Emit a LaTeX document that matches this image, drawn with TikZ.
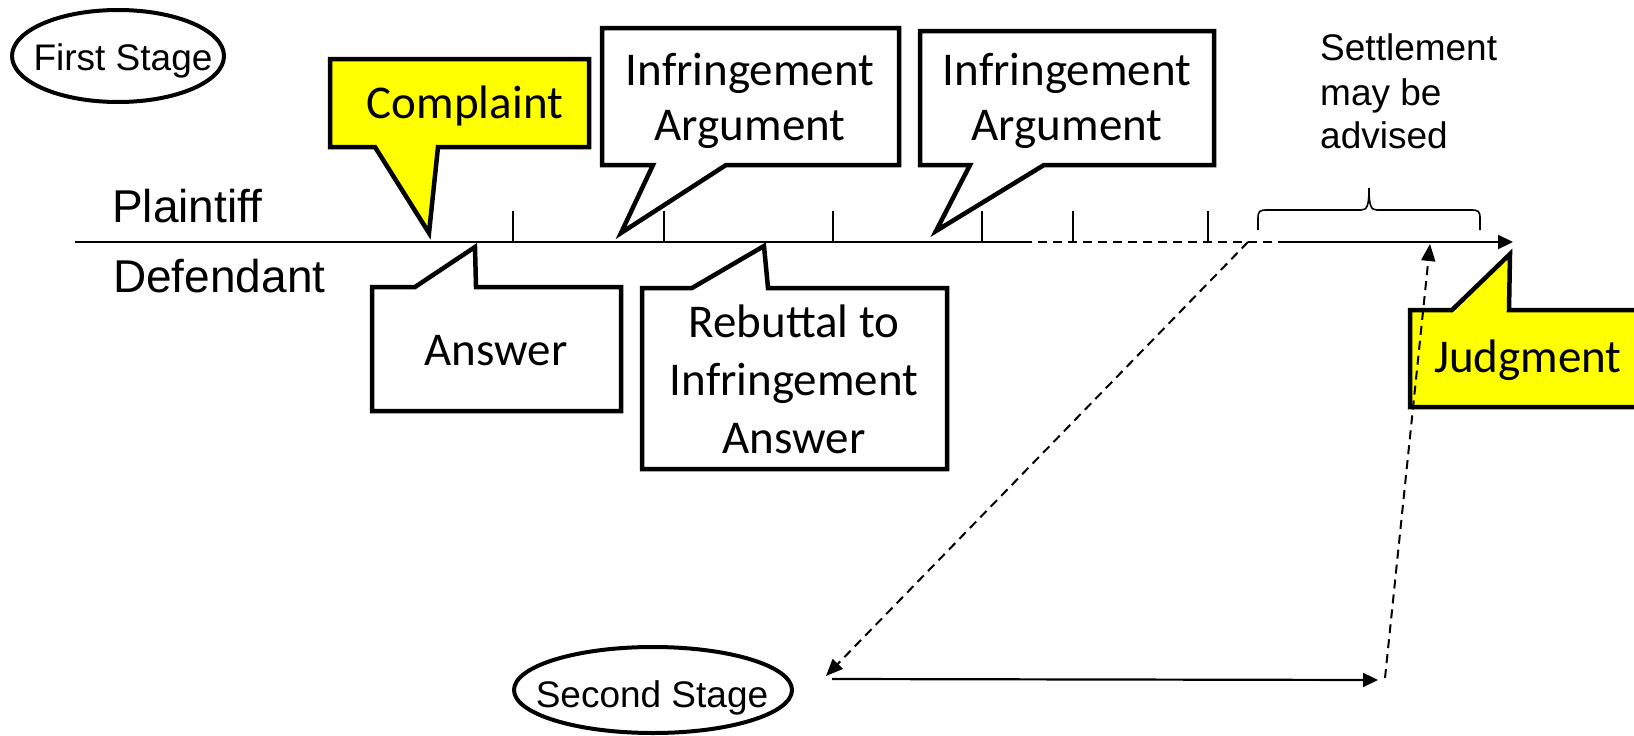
\documentclass[tikz,border=0pt]{standalone}
\usepackage{fontspec}
\setmainfont{Liberation Sans}
\newfontfamily\calibri{Carlito}
\usetikzlibrary{arrows.meta,shapes.geometric}
\definecolor{calloutyellow}{RGB}{255,255,0}

\tikzset{
  callout/.style={draw=black, line width=4.5pt, line join=miter, fill=white},
  hot/.style={callout, fill=calloutyellow},
  btxt/.style={font=\calibri\fontsize{47}{56}\selectfont, anchor=base, inner sep=0pt},
  atxt/.style={font=\fontsize{46}{55}\selectfont, anchor=base west, inner sep=0pt},
  stxt/.style={font=\fontsize{37}{44}\selectfont, anchor=base west, inner sep=0pt},
  stage/.style={ellipse, draw, line width=4pt, inner sep=0pt},
  stagetxt/.style={font=\fontsize{37}{44}\selectfont, text height=26pt, text depth=0pt,
                   inner sep=0pt},
  axis/.style={line width=2.2pt},
  tickmark/.style={line width=1.6pt},
  dashline/.style={line width=2pt, dash pattern=on 9pt off 6pt},
  headtip/.style={-{Triangle[length=15pt,width=14pt]}},
}

\begin{document}
\begin{tikzpicture}[x=1pt,y=-1pt]
\useasboundingbox (0,0) rectangle (1634,736);

% stage labels
\node[stage, minimum width=212pt, minimum height=92pt] (first) at (118,56) {};
\node[stagetxt] (firsttxt) at (123,57) {First Stage};
\node[stage, minimum width=278pt, minimum height=86pt] (second) at (653,690) {};
\node[stagetxt] (secondtxt) at (652,694) {Second Stage};

% time line
\coordinate (t0) at (75,242);
\coordinate (t1) at (1023,242);
\coordinate (t2) at (1291,242);
\coordinate (t2s) at (1283,242);
\coordinate (t3) at (1513,242);
\draw[axis] (t0) -- (t1);
\draw[axis, dashline] (t1) -- (t2);
\draw[axis, headtip] (t2s) -- (t3);
\foreach \x in {513,664,833,982,1073,1208}
  \draw[tickmark] (\x,211) -- (\x,242);

\node[atxt] (plaintiff) at (112,222) {Plaintiff};
\node[atxt] (defendant) at (113,292) {Defendant};

% plaintiff callouts
\draw[hot] (330,59) -- (589,59) -- (589,147) -- (438,147) -- (429,233)
  -- (375,147) -- (330,147) -- cycle;
\node[btxt] (complaint) at (465,118) {Complaint};

\draw[callout] (602,28) -- (899,28) -- (899,165) -- (726,165) -- (621,233)
  -- (653,165) -- (602,165) -- cycle;
\node[btxt] (arg1a) at (750,85) {Infringement};
\node[btxt] (arg1b) at (750,140) {Argument};

\draw[callout] (920,31) -- (1214,31) -- (1214,165) -- (1044,165) -- (936,231)
  -- (970,165) -- (920,165) -- cycle;
\node[btxt] (arg2a) at (1067,85) {Infringement};
\node[btxt] (arg2b) at (1067,140) {Argument};

% defendant callouts
\draw[callout] (372,287) -- (415,287) -- (475,247) -- (476,287) -- (621,287)
  -- (621,411) -- (372,411) -- cycle;
\node[btxt] (answer) at (496,365) {Answer};

\draw[callout] (642,288) -- (692,288) -- (764,246) -- (768,288) -- (947,288)
  -- (947,469) -- (642,469) -- cycle;
\node[btxt] (reb1) at (794,337) {Rebuttal to};
\node[btxt] (reb2) at (794,395) {Infringement};
\node[btxt] (reb3) at (794,453) {Answer};

% judgment
\draw[hot] (1410,310) -- (1452,310) -- (1510,254) -- (1509,310) -- (1660,310)
  -- (1660,407) -- (1410,407) -- cycle;
\node[btxt] (judgment) at (1528,372) {Judgment};

% settlement window
\node[stxt] (set1) at (1320,60) {Settlement};
\node[stxt] (set2) at (1320,105) {may be};
\node[stxt] (set3) at (1320,148) {advised};
\coordinate (bl) at (1258,230);
\coordinate (br) at (1480,230);
\coordinate (bt) at (1369,188);
\draw[line width=1.6pt]
  (bl) -- (1258,218) .. controls (1258,211) and (1260,210) .. (1267,210)
  -- (1361,210) .. controls (1367,210) and (1369,206) .. (bt)
  .. controls (1369,206) and (1371,210) .. (1377,210)
  -- (1471,210) .. controls (1478,210) and (1480,211) .. (1480,218) -- (br);

% second stage path
\coordinate (split) at (1248,242);
\coordinate (s2in) at (826,676);
\coordinate (s2a) at (832,679);
\coordinate (s2b) at (1378,680);
\coordinate (up0) at (1385,678);
\coordinate (up1) at (1430,244);
\draw[dashline, -{Triangle[length=17pt,width=14pt]}] (split) -- (s2in);
\draw[axis, headtip] (s2a) -- (s2b);
\draw[dashline, -{Triangle[length=17pt,width=14pt]}] (up0) -- (up1);
\end{tikzpicture}
\end{document}
